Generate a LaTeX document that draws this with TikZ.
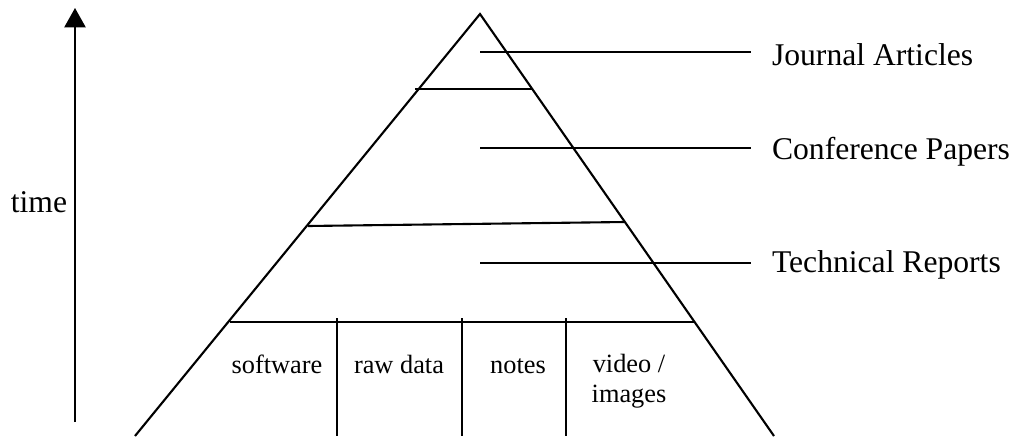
\documentclass[tikz,border=0pt]{standalone}
\usepackage{fontspec}
\setmainfont{Liberation Serif}
\usetikzlibrary{arrows.meta}

\tikzset{
  layer/.style={anchor=base west, inner ysep=0pt, inner xsep=0.4cm, font=\fontsize{18}{20}\selectfont},
  cell/.style={anchor=base, inner sep=0pt, align=center, font=\fontsize{15}{17}\selectfont}
}

\begin{document}
\begin{tikzpicture}[x=0.02cm, y=-0.02cm, line width=1.2pt]
\useasboundingbox (0,0) rectangle (1013,436);

\def \xm {480}
\def \xl {751}
\def \yb {436}

\def \ya {52}
\def \yc {148}
\def \ye {263}

% time axis
\coordinate (tb) at (75, 422);
\coordinate (tt) at (75, 8);
\draw[-{Triangle[width=12pt, length=11pt]}] (tb) -- (tt);
\node[font=\fontsize{18}{20}\selectfont, inner sep=0pt] (time) at (39, 202) {time};

% pyramid
\coordinate (apex) at (\xm, 14);
\coordinate (bl) at (135, \yb);
\coordinate (br) at (774, \yb);
\draw (bl) -- (apex) -- (br);

% layer borders
\draw (415, 89) -- (532, 89);
\draw (308, 226) -- (625, 222);
\draw (230, 322) -- (695, 322);
\foreach \x in {337, 462, 566}
  \draw (\x, 318) -- (\x, \yb);

% labels
\node[layer] (jour) at (\xl, \ya + 13) {Journal Articles};
\node[layer] (conf) at (\xl, \yc + 11) {Conference Papers};
\node[layer] (tech) at (\xl, \ye + 9) {Technical Reports};

\coordinate (ja) at (\xm, \ya);
\coordinate (ca) at (\xm, \yc);
\coordinate (ta) at (\xm, \ye);
\draw (ja) -- (ja -| jour.west);
\draw (ca) -- (ca -| conf.west);
\draw (ta) -- (ta -| tech.west);

% raw material
\node[cell] (soft) at (277, 373) {software};
\node[cell] (raw) at (399, 373) {raw data};
\node[cell] (notes) at (518, 373) {notes};
\node[cell] (video) at (629, 402) {video /\\images};

\end{tikzpicture}
\end{document}
